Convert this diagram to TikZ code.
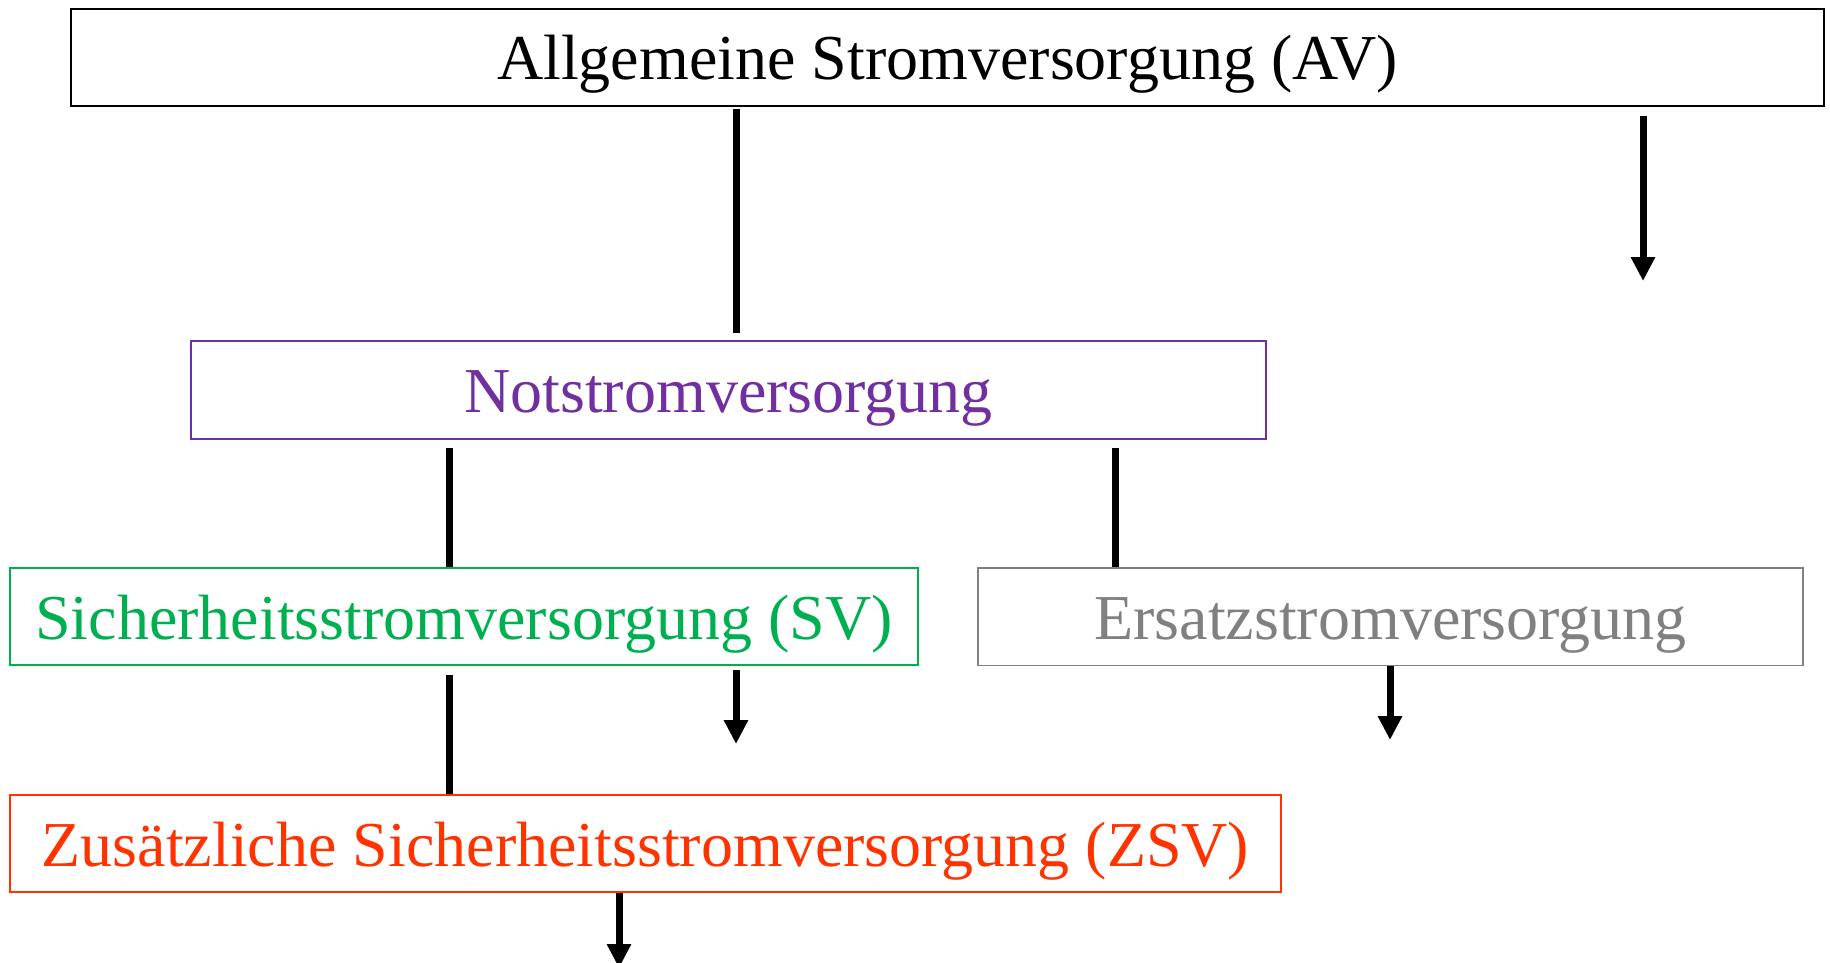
\documentclass[tikz,border=0pt]{standalone}
\usepackage{fontspec}
\setmainfont{Liberation Serif}
\usetikzlibrary{arrows.meta,calc}

\definecolor{avblack}{HTML}{000000}
\definecolor{nvpurple}{HTML}{7030A0}
\definecolor{svgreen}{HTML}{00B050}
\definecolor{esgrey}{HTML}{808080}
\definecolor{zsvred}{HTML}{FF3300}

\tikzset{
  supplybox/.style={draw, rectangle, inner sep=0pt, text height=22.5pt, text depth=0pt,
    font=\fontsize{32}{38}\selectfont},
  link/.style={line width=3.5pt, draw=black},
  feed/.style={line width=3.5pt, draw=black, -{Triangle[width=11.5pt,length=12pt]}}
}

\begin{document}
\begin{tikzpicture}[x=0.5pt, y=-0.5pt]
  \useasboundingbox (0,0) rectangle (1830,963);
  \clip (0,0) rectangle (1830,963);

  % supply levels
  \node[supplybox, line width=1pt, draw=avblack, text=avblack,
        minimum width=876.5pt, minimum height=48.5pt] (av) at (947.5,57.5)
        {Allgemeine Stromversorgung (AV)};
  \node[supplybox, line width=0.8pt, draw=nvpurple, text=nvpurple,
        minimum width=537.5pt, minimum height=49pt] (nsv) at (728.5,390)
        {Notstromversorgung};
  \node[supplybox, line width=0.8pt, draw=svgreen, text=svgreen,
        minimum width=454pt, minimum height=48.5pt] (sv) at (464,616.5)
        {Sicherheitsstromversorgung (SV)};
  \node[supplybox, line width=0.8pt, draw=esgrey, text=esgrey,
        minimum width=412.5pt, minimum height=48.75pt] (esv) at (1390.5,616.75)
        {Ersatzstromversorgung};
  \node[supplybox, line width=0.8pt, draw=zsvred, text=zsvred,
        minimum width=635.5pt, minimum height=48.5pt] (zsv) at (645.5,843.5)
        {Zusätzliche Sicherheitsstromversorgung (ZSV)};

  % vertical lanes of the connectors
  \coordinate (laneA) at (736,0);
  \coordinate (laneB) at (1643,0);
  \coordinate (laneC) at (449,0);
  \coordinate (laneD) at (1115,0);
  \coordinate (laneE) at (1390,0);
  \coordinate (laneF) at (619,0);

  % free ends of the outgoing feeds
  \coordinate (avout)  at (1643,281);
  \coordinate (svout)  at (736,744);
  \coordinate (esvout) at (1390,740);
  \coordinate (zsvout) at (619,968);

  % tree links
  \draw[link] ($(av.south -| laneA)+(0,2)$) -- ($(nsv.north -| laneA)+(0,-7)$);
  \draw[link] ($(nsv.south -| laneC)+(0,8)$) -- (sv.north -| laneC);
  \draw[link] ($(nsv.south -| laneD)+(0,8)$) -- (esv.north -| laneD);
  \draw[link] ($(sv.south -| laneC)+(0,9)$) -- (zsv.north -| laneC);

  % outgoing feeds
  \draw[feed] ($(av.south -| laneB)+(0,9)$) -- (avout);
  \draw[feed] ($(sv.south -| laneA)+(0,4)$) -- (svout);
  \draw[feed] (esv.south -| laneE) -- (esvout);
  \draw[feed] (zsv.south -| laneF) -- (zsvout);
\end{tikzpicture}
\end{document}
